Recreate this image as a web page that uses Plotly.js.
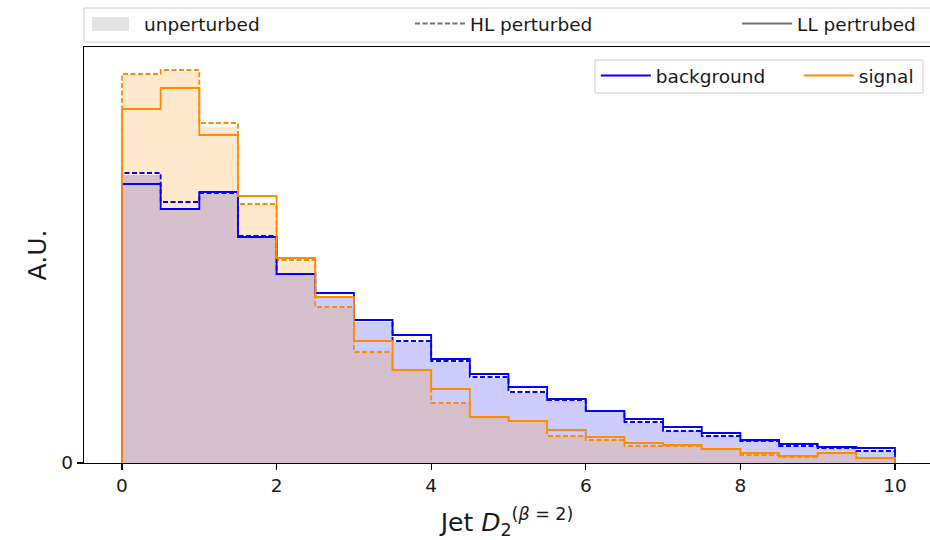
<!DOCTYPE html>
<html><head><meta charset="utf-8">
<script src="https://cdn.plot.ly/plotly-3.0.1.min.js"></script>
<style>html,body{margin:0;padding:0;background:#fff}#chart{width:930px;height:540px}</style>
</head><body><div id="chart"></div>
<script>
// Bin edges of the jet D2 histogram
const binEdges = [0,0.5,1,1.5,2,2.5,3,3.5,4,4.5,5,5.5,6,6.5,7,7.5,8,8.5,9,9.5,10];

// Background (blue)
const bkgUnperturbed = [288,254,269,225,188,165,141,121,101,85,70,62,51,40,32,27,22,17,15,12];
const bkgHL          = [290,261,270,227,189,166,143,122,102,86,71,63,52,41,32,27,22,17,15,12];
const bkgLL          = [279,254,271,226,189,170,143,128,104,89,76,64,52,44,36,30,23,19,16,15];

// Signal (orange)
const sigUnperturbed = [388,391,336,258,201,155,110,92,59,45,41,27,23,17,17,14,8,6,9,5];
const sigHL          = [389,393,340,259,203,156,111,93,60,46,42,27,23,17,17,14,8,6,10,5];
const sigLL          = [354,375,328,267,205,166,122,93,74,46,42,33,26,20,18,14,10,7,10,5];

const xTickVals = [0,2,4,6,8,10];
const xTickText = ['0','2','4','6','8','10'];

const BLUE = '#0000ff', ORANGE = '#ff8c00';
const FONT = 'DejaVu Sans, sans-serif';

function stepXY(vals){
  const n = vals.length;
  const x = [binEdges[0]], y = [0];
  for (let i = 0; i < n; i++){ x.push(binEdges[i]); y.push(vals[i]); }
  x.push(binEdges[n]); y.push(vals[n-1]);
  x.push(binEdges[n]); y.push(0);
  return {x, y};
}

function fillTrace(vals, color){
  const s = stepXY(vals);
  return {type:'scatter', mode:'lines', x:s.x, y:s.y, line:{shape:'hv', width:0, color:color},
          fill:'tozeroy', fillcolor:color, showlegend:false, hoverinfo:'skip'};
}
function lineTrace(vals, color, dash, name, show){
  const s = stepXY(vals);
  return {type:'scatter', mode:'lines', x:s.x, y:s.y, name:name,
          line:{shape:'hv', width:1.8, color:color, dash:dash},
          showlegend:show, legend:'legend'};
}

const traces = [
  fillTrace(bkgUnperturbed, 'rgba(0,0,255,0.2)'),
  fillTrace(sigUnperturbed, 'rgba(255,140,0,0.2)'),
  lineTrace(bkgHL, BLUE, '5px,2.5px', 'bkg HL', false),
  lineTrace(sigHL, ORANGE, '5px,2.5px', 'sig HL', false),
  lineTrace(bkgLL, BLUE, 'solid', 'background', true),
  lineTrace(sigLL, ORANGE, 'solid', 'signal', true),
  // style legend (top)
  {type:'bar', x:[null], y:[null], name:'unperturbed', marker:{color:'rgba(0,0,0,0)'}, legend:'legend2', showlegend:true},
  {type:'scatter', mode:'lines', x:[null], y:[null], name:'HL perturbed', line:{color:'#707070', width:1.8, dash:'5px,2.5px'}, legend:'legend2', showlegend:true},
  {type:'scatter', mode:'lines', x:[null], y:[null], name:'LL pertrubed', line:{color:'#707070', width:1.8}, legend:'legend3', showlegend:true}
];

const legendBase = {
  orientation:'h', xanchor:'left', yanchor:'top',
  bgcolor:'rgba(0,0,0,0)', borderwidth:0, itemwidth:50,
  font:{size:18.5, family:FONT, color:'#1a1a1a'}
};

const layout = {
  width:930, height:540,
  paper_bgcolor:'#ffffff', plot_bgcolor:'#ffffff',
  margin:{l:84, r:0, t:47, b:77, autoexpand:false},
  font:{family:FONT, color:'#1a1a1a'},
  showlegend:true,
  xaxis:{
    range:[-0.4916, 10.453], tickvals:xTickVals, ticktext:xTickText,
    ticks:'outside', ticklen:6, tickwidth:1.2, tickcolor:'#000',
    showline:true, linecolor:'#000', linewidth:1.2, mirror:true,
    showgrid:false, zeroline:false, tickfont:{size:18.5, family:FONT},
    title:{text:'Jet <i>D</i><sub>2</sub><sup>(<i>β</i> = 2)</sup>', font:{size:25, family:FONT}, standoff:18}
  },
  yaxis:{
    range:[0, 416], tickvals:[0], ticktext:['0'],
    ticks:'outside', ticklen:6, tickwidth:1.2, tickcolor:'#000',
    showline:true, linecolor:'#000', linewidth:1.2, mirror:false,
    showgrid:false, zeroline:false, tickfont:{size:18.5, family:FONT},
    title:{text:'A.U.', font:{size:25, family:FONT}, standoff:7}
  },
  legend:Object.assign({}, legendBase, {x:0.605, y:0.976, entrywidth:138}),
  legend2:Object.assign({}, legendBase, {x:0.0, y:1.101, entrywidth:261}),
  legend3:Object.assign({}, legendBase, {x:0.772, y:1.101}),
  shapes:[
    {type:'rect', xref:'paper', yref:'paper', x0:0.0, x1:1.02, y0:1.0120, y1:1.09375,
     line:{color:'#cccccc', width:1}, fillcolor:'rgba(255,255,255,0.8)', layer:'above'},
    {type:'rect', xref:'paper', yref:'paper', x0:0.0095, x1:0.0532, y0:1.0385, y1:1.0721,
     line:{width:0}, fillcolor:'#e5e5e5', layer:'above'},
    {type:'rect', xref:'paper', yref:'paper', x0:0.604, x1:0.9917, y0:0.8894, y1:0.96875,
     line:{color:'#cccccc', width:1}, fillcolor:'rgba(255,255,255,0.8)', layer:'above'}
  ]
};

Plotly.newPlot('chart', traces, layout, {displayModeBar:false, staticPlot:true});
</script></body></html>
